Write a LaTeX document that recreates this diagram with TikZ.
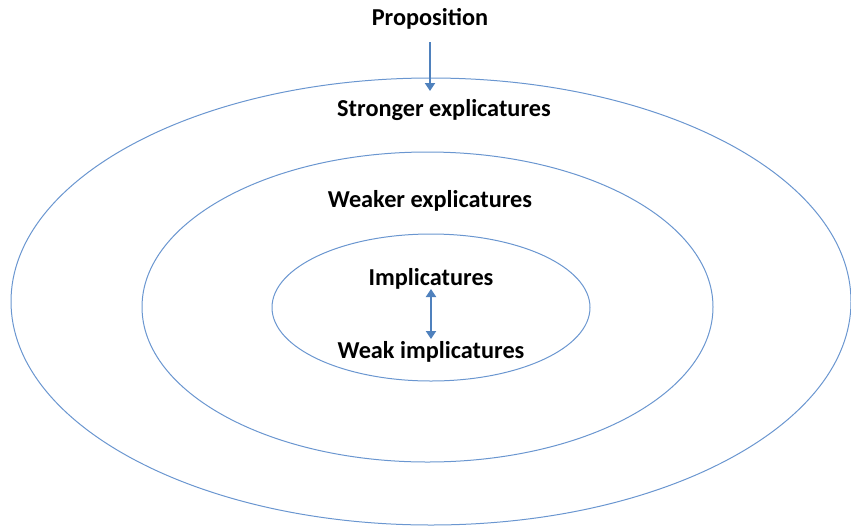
\documentclass[tikz,border=0pt]{standalone}
\usepackage{fontspec}
\setmainfont{Carlito}
\usetikzlibrary{arrows.meta}
\definecolor{ringblue}{HTML}{6A96D0}
\definecolor{arrowblue}{HTML}{4F81BD}
\begin{document}
\begin{tikzpicture}[x=1pt,y=-1pt,
  ring/.style={draw=ringblue,line width=1pt},
  lbl/.style={font=\bfseries\fontsize{24.3}{27}\selectfont,inner sep=0pt,anchor=center},
  conn/.style={draw=arrowblue,line width=2.6pt,-{Triangle[length=8pt,width=10pt]}},
  conn2/.style={draw=arrowblue,line width=2.6pt,{Triangle[length=8pt,width=10pt]}-{Triangle[length=8pt,width=10pt]}}]
\useasboundingbox (0,0) rectangle (851,528);
\draw[ring] (431,301.5) ellipse [x radius=420, y radius=223.5];
\draw[ring] (427.5,307) ellipse [x radius=285.5, y radius=155];
\draw[ring] (431,307.5) ellipse [x radius=159, y radius=73.5];
\node[lbl] (prop) at (430,19) {Proposition};
\node[lbl] (strong) at (444,110) {Stronger explicatures};
\node[lbl] (weaker) at (430,201) {Weaker explicatures};
\node[lbl] (impl) at (431,279) {Implicatures};
\node[lbl] (weak) at (431,352) {Weak implicatures};
\coordinate (a1) at (430,42);
\coordinate (a2) at (430,91);
\draw[conn] (a1) -- (a2);
\coordinate (b1) at (431,289);
\coordinate (b2) at (431,339);
\draw[conn2] (b1) -- (b2);
\end{tikzpicture}
\end{document}
